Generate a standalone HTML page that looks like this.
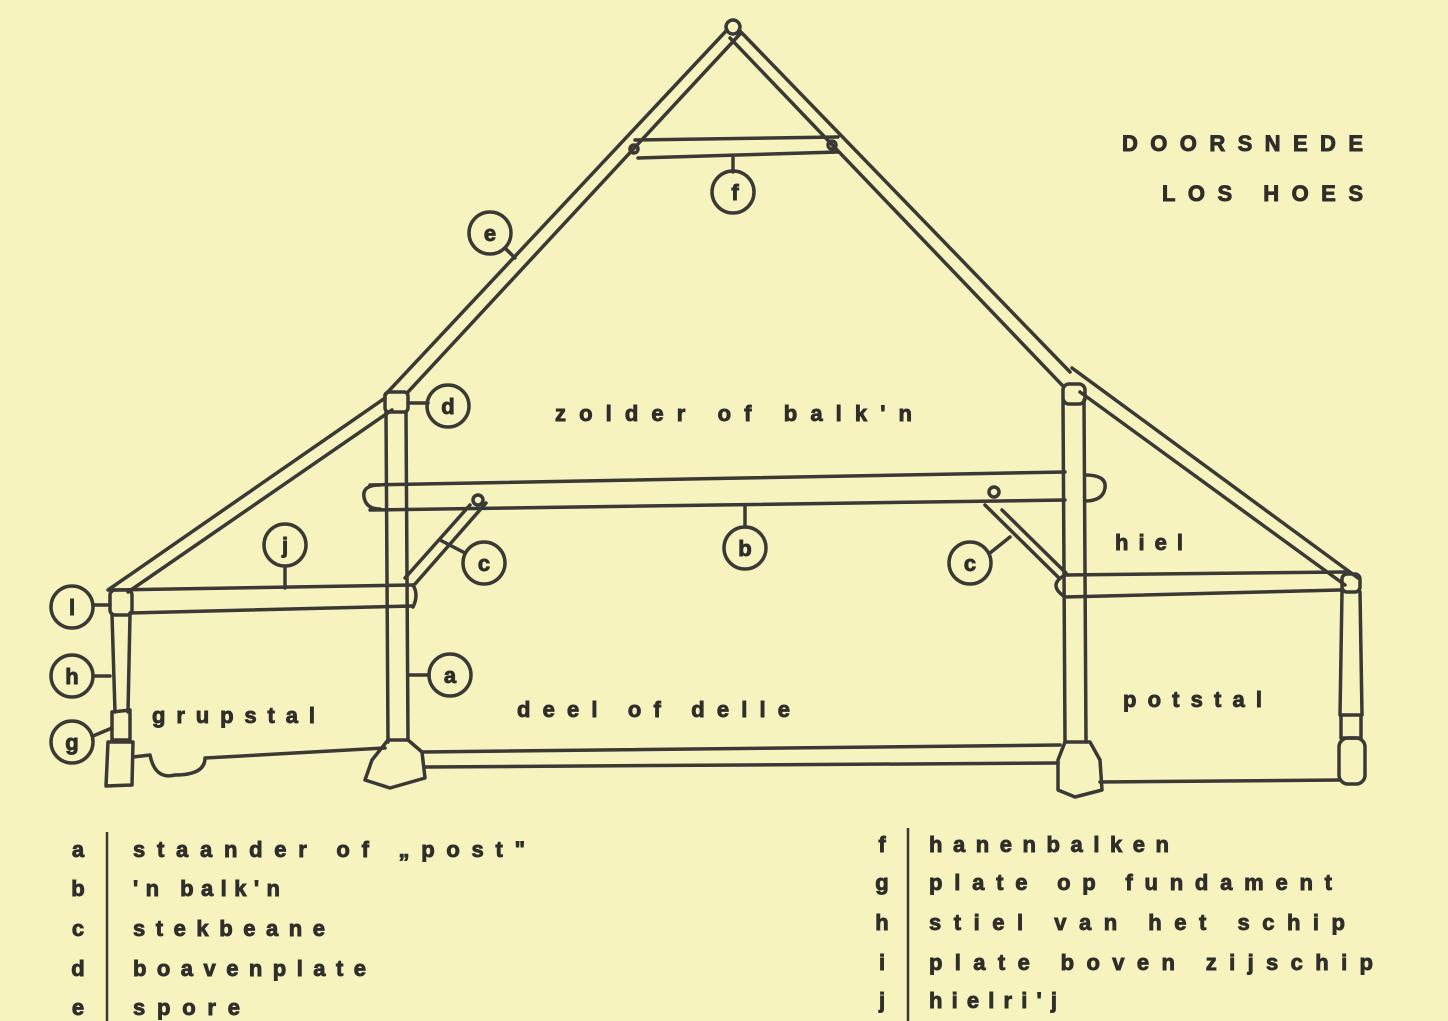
<!DOCTYPE html>
<html><head><meta charset="utf-8"><style>
html,body{margin:0;padding:0;background:#f7f3bf;}
svg{display:block;}
text{font-family:"Liberation Sans",sans-serif;font-weight:bold;fill:#2f2e2a;stroke:#2f2e2a;stroke-width:0.9;}
</style></head><body>
<svg width="1448" height="1021" viewBox="0 0 1448 1021">
<rect width="1448" height="1021" fill="#f7f3bf"/>
<g fill="none" stroke="#3a3935" stroke-width="3.5" stroke-linejoin="round" stroke-linecap="round">
<circle cx="733" cy="27" r="7"/>
<path d="M727 30 L385 395 M740 34 L408 392"/>
<path d="M385 398 L108 590 M392 410 L128 592"/>
<path d="M739 30 L1070 372 M730 38 L1062 385"/>
<path d="M1072 368 L1358 578 M1080 392 L1345 585"/>
<path d="M635 140 L838 137 M638 158 L838 152"/>
<circle cx="634" cy="149" r="4"/><circle cx="832" cy="145" r="4"/>
<line x1="733" y1="158" x2="733" y2="172"/>
<circle cx="733" cy="192" r="21"/>
<circle cx="490" cy="233" r="21"/><line x1="505" y1="248" x2="515" y2="258"/>
<path d="M386 412 L388 742 M406 412 L408 740"/>
<rect x="385" y="392" width="23" height="20" rx="4"/>
<circle cx="448" cy="406" r="21"/><line x1="408" y1="403" x2="428" y2="403"/>
<path d="M1063 400 L1065 742 M1084 400 L1086 742"/>
<rect x="1063" y="384" width="22" height="20" rx="6"/>
<path d="M370 485 L1065 472 M370 510 L1065 500"/>
<path d="M380 485 q-18 0 -16 12 q2 12 16 12"/>
<path d="M1085 475 q22 0 20 13 q-2 13 -20 13"/>
<circle cx="478" cy="500" r="5"/><circle cx="994" cy="492" r="5"/>
<line x1="745" y1="505" x2="745" y2="527"/>
<circle cx="745" cy="548" r="21"/>
<path d="M405 578 L470 505 M415 584 L486 503"/>
<circle cx="484" cy="563" r="21"/><line x1="440" y1="540" x2="465" y2="553"/>
<path d="M985 505 L1058 577 M1002 510 L1066 573"/>
<circle cx="970" cy="563" r="21"/><line x1="990" y1="553" x2="1010" y2="537"/>
<path d="M110 590 L413 585 M130 613 L413 606"/>
<path d="M413 585 q6 10 0 22"/>
<line x1="285" y1="567" x2="285" y2="588"/>
<circle cx="285" cy="545" r="21"/>
<rect x="110" y="590" width="22" height="25" rx="5"/>
<path d="M112 615 L115 712 M130 615 L128 712"/>
<path d="M112 712 L130 710 L130 740 L112 740 Z"/>
<path d="M108 742 L133 742 L132 785 L106 786 Z"/>
<path d="M133 757 L150 755 Q155 780 175 775 Q205 775 205 758 L385 748"/>
<circle cx="72" cy="607" r="21"/><line x1="93" y1="605" x2="110" y2="605"/>
<circle cx="72" cy="676" r="21"/><line x1="93" y1="676" x2="110" y2="676"/>
<circle cx="72" cy="742" r="21"/><line x1="93" y1="736" x2="112" y2="728"/>
<circle cx="450" cy="675" r="21"/><line x1="408" y1="675" x2="429" y2="675"/>
<path d="M388 740 L408 740 L422 752 L425 778 L390 788 L365 780 L372 760 Z"/>
<path d="M422 752 L1060 745 M425 767 L1058 763"/>
<path d="M1065 575 L1345 572 M1065 597 L1340 590"/>
<path d="M1065 575 q-18 10 0 22"/>
<rect x="1342" y="574" width="18" height="18" rx="5"/>
<path d="M1342 592 L1340 715 M1360 592 L1362 715"/>
<path d="M1341 715 L1361 715 L1361 738 L1341 738 Z"/>
<rect x="1339" y="738" width="26" height="46" rx="9"/>
<path d="M1100 782 L1339 780"/>
<path d="M1065 742 L1090 742 L1100 760 L1102 790 L1075 797 L1058 790 L1058 760 Z"/>
</g>
<g font-size="22">
<text x="735" y="200" text-anchor="middle">f</text>
<text x="490" y="241" text-anchor="middle">e</text>
<text x="448" y="414" text-anchor="middle">d</text>
<text x="745" y="556" text-anchor="middle">b</text>
<text x="484" y="571" text-anchor="middle">c</text>
<text x="970" y="571" text-anchor="middle">c</text>
<text x="285" y="553" text-anchor="middle">j</text>
<text x="72" y="615" text-anchor="middle">l</text>
<text x="72" y="684" text-anchor="middle">h</text>
<text x="72" y="750" text-anchor="middle">g</text>
<text x="450" y="683" text-anchor="middle">a</text>
<text x="1122" y="151" textLength="241" lengthAdjust="spacing">DOORSNEDE</text>
<text x="1162" y="201" textLength="201" lengthAdjust="spacing">LOS HOES</text>
<text x="555" y="421" textLength="357" lengthAdjust="spacing">zolder of balk'n</text>
<text x="517" y="717" textLength="273" lengthAdjust="spacing">deel of delle</text>
<text x="152" y="723" textLength="163" lengthAdjust="spacing">grupstal</text>
<text x="1115" y="550" textLength="68" lengthAdjust="spacing">hiel</text>
<text x="1123" y="707" textLength="139" lengthAdjust="spacing">potstal</text>
<text x="78" y="857" text-anchor="middle">a</text>
<text x="78" y="896" text-anchor="middle">b</text>
<text x="78" y="936" text-anchor="middle">c</text>
<text x="78" y="976" text-anchor="middle">d</text>
<text x="78" y="1015" text-anchor="middle">e</text>
<text x="133" y="857" textLength="392" lengthAdjust="spacing">staander of „post"</text>
<text x="133" y="896" textLength="147" lengthAdjust="spacing">'n balk'n</text>
<text x="133" y="936" textLength="192" lengthAdjust="spacing">stekbeane</text>
<text x="133" y="976" textLength="233" lengthAdjust="spacing">boavenplate</text>
<text x="133" y="1015" textLength="107" lengthAdjust="spacing">spore</text>
<text x="882" y="852" text-anchor="middle">f</text>
<text x="882" y="890" text-anchor="middle">g</text>
<text x="882" y="930" text-anchor="middle">h</text>
<text x="882" y="970" text-anchor="middle">i</text>
<text x="882" y="1008" text-anchor="middle">j</text>
<text x="929" y="852" textLength="240" lengthAdjust="spacing">hanenbalken</text>
<text x="929" y="890" textLength="403" lengthAdjust="spacing">plate op fundament</text>
<text x="929" y="930" textLength="416" lengthAdjust="spacing">stiel van het schip</text>
<text x="929" y="970" textLength="444" lengthAdjust="spacing">plate boven zijschip</text>
<text x="929" y="1008" textLength="128" lengthAdjust="spacing">hielri'j</text>
</g>
<g stroke="#3a3935" stroke-width="2.5">
<line x1="107" y1="832" x2="107" y2="1021"/>
<line x1="908" y1="828" x2="908" y2="1021"/>
</g>
</svg>
</body></html>
